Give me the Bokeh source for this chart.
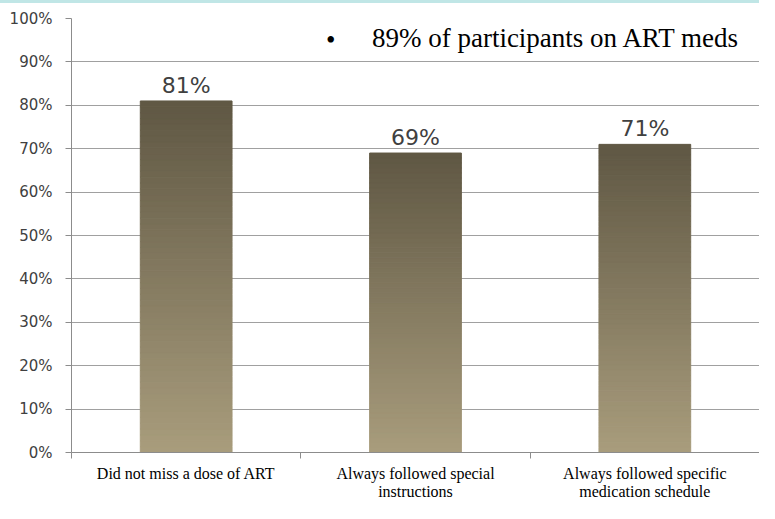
from bokeh.plotting import figure
from bokeh.models import Range1d, FixedTicker, LinearAxis, PrintfTickFormatter, Div, ColumnDataSource, Grid
from bokeh.layouts import column
from bokeh.core.properties import value
from bokeh.embed import file_html
from bokeh.resources import INLINE

categories = ["Did not miss a dose of ART",
              "Always followed special\ninstructions",
              "Always followed specific\nmedication schedule"]
values = [81, 69, 71]
y_ticks = [0, 10, 20, 30, 40, 50, 60, 70, 80, 90, 100]
note = "89% of participants on ART meds"

TOP = (96, 88, 68)
BOT = (168, 156, 124)
N = 60

p = figure(width=759, height=500, output_backend="svg", toolbar_location=None,
           x_range=Range1d(0, len(categories)), y_range=Range1d(0, 100),
           min_border_left=71, min_border_right=0, min_border_top=15, min_border_bottom=48,
           x_axis_type=None, y_axis_type=None)
p.outline_line_color = None
p.background_fill_color = "white"

# gradient bars built from slices
left, right, bottom, top, colors = [], [], [], [], []
for i, v in enumerate(values):
    for k in range(N):
        t = k / (N - 1)
        c = tuple(int(round(BOT[j] + (TOP[j] - BOT[j]) * t)) for j in range(3))
        left.append(i + 0.5 - 0.2)
        right.append(i + 0.5 + 0.2)
        bottom.append(v * k / N)
        top.append(v * (k + 1) / N)
        colors.append("#%02x%02x%02x" % c)
p.quad(left=left, right=right, bottom=bottom, top=top, fill_color=colors,
       line_color=colors, line_width=1)

# y axis
yax = LinearAxis(ticker=FixedTicker(ticks=y_ticks), formatter=PrintfTickFormatter(format="%d%%"))
yax.axis_line_color = "#8c8c8c"
yax.major_tick_line_color = "#8c8c8c"
yax.major_tick_out = 6
yax.major_tick_in = 0
yax.minor_tick_line_color = None
yax.major_label_text_font = "DejaVu Sans"
yax.major_label_text_font_size = "15px"
yax.major_label_text_color = "#404040"
yax.major_label_standoff = 13
p.add_layout(yax, "left")

# x axis
centers = [i + 0.5 for i in range(len(categories))]
bounds = list(range(len(categories) + 1))
xax = LinearAxis(ticker=FixedTicker(ticks=centers, minor_ticks=bounds))
xax.major_label_overrides = {c: lab for c, lab in zip(centers, categories)}
xax.axis_line_color = "#8c8c8c"
xax.major_tick_line_color = None
xax.minor_tick_line_color = "#8c8c8c"
xax.minor_tick_out = 6
xax.minor_tick_in = 0
xax.major_label_text_font = "Liberation Serif"
xax.major_label_text_font_size = "16px"
xax.major_label_text_line_height = 1.1
xax.major_label_text_color = "#000000"
xax.major_label_standoff = 6
p.add_layout(xax, "below")

# grid lines
g = Grid(dimension=1, ticker=FixedTicker(ticks=y_ticks))
g.grid_line_color = "#a0a0a0"
g.grid_line_width = 1
p.add_layout(g)

# value labels
src = ColumnDataSource(dict(x=centers, y=values, t=["%d%%" % v for v in values]))
p.text(x="x", y="y", text="t", source=src, text_align="center", text_baseline="bottom",
       y_offset=-3, text_font=value("DejaVu Sans"), text_font_size="22px", text_color="#404040")

# annotation note
p.text(x=[1.13], y=[95.0], text=["\u2022"], text_align="center", text_baseline="middle",
       text_font=value("Liberation Serif"), text_font_size="27px", text_color="#000000")
p.text(x=[1.31], y=[95.6], text=[note], text_align="left", text_baseline="middle",
       text_font=value("Liberation Serif"), text_font_size="27px", text_color="#000000")

bar = Div(width=759, height=3, margin=0, styles={"background-color": "#c0e6e6"})
layout = column(bar, p, spacing=0)

open("out.html", "w").write(file_html(layout, INLINE))
